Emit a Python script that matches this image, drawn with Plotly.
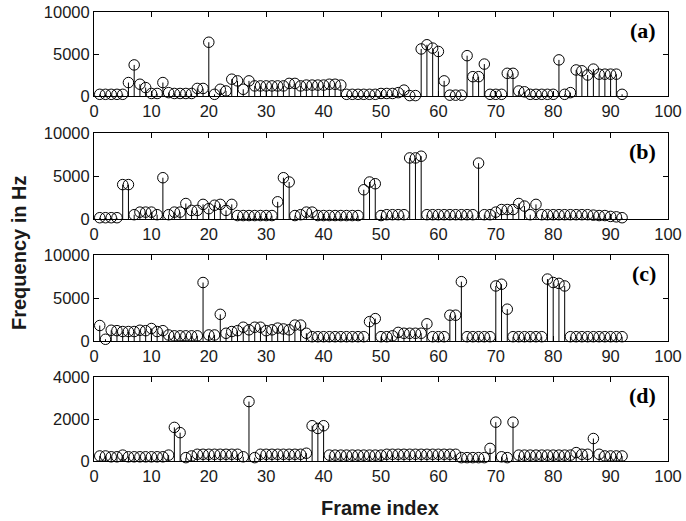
import plotly.graph_objects as go

frames = list(range(1, 93))

freq_a = [200, 200, 200, 200, 200, 1600, 3700, 1400, 1000, 300,
          300, 1600, 400, 300, 300, 300, 300, 900, 900, 6400,
          200, 800, 600, 2000, 1800, 800, 1800, 1200, 1200, 1200,
          1200, 1200, 1200, 1500, 1500, 1200, 1300, 1300, 1300, 1300,
          1400, 1400, 1300, 200, 200, 200, 200, 200, 200, 300,
          300, 300, 400, 700, 50, 50, 5600, 6100, 5700, 5300,
          1800, 100, 100, 100, 4800, 2300, 2300, 3800, 200, 200,
          200, 2700, 2700, 600, 500, 200, 200, 200, 200, 200,
          4300, 200, 400, 3100, 3000, 2500, 3200, 2600, 2600, 2600,
          2600, 200]

freq_b = [150, 150, 150, 150, 4000, 4000, 500, 800, 800, 800,
          500, 4800, 500, 800, 800, 1800, 1000, 1000, 1700, 1200,
          1600, 1700, 1000, 1700, 400, 400, 400, 400, 400, 400,
          400, 2000, 4800, 4300, 400, 500, 800, 800, 400, 400,
          400, 400, 400, 400, 400, 400, 3400, 4300, 4100, 400,
          500, 500, 500, 500, 7100, 7100, 7300, 500, 500, 500,
          500, 500, 500, 500, 500, 500, 6500, 500, 500, 800,
          1100, 1100, 1100, 1800, 1500, 500, 1700, 500, 500, 500,
          500, 500, 500, 500, 500, 500, 450, 400, 400, 300,
          250, 150]

freq_c = [1800, 200, 1250, 1200, 1100, 1100, 1100, 1250, 1200, 1450,
          1100, 1200, 700, 600, 600, 600, 600, 600, 6800, 700,
          700, 3100, 900, 1100, 1200, 1600, 1300, 1600, 1600, 1200,
          1300, 1500, 1400, 1300, 1850, 1850, 900, 500, 500, 500,
          500, 500, 500, 500, 500, 500, 500, 2250, 2600, 500,
          500, 600, 1000, 900, 900, 900, 900, 2000, 500, 500,
          500, 3000, 3000, 6900, 500, 500, 500, 500, 500, 6400,
          6600, 3700, 500, 500, 500, 500, 500, 500, 7200, 6800,
          6700, 6400, 500, 500, 500, 500, 500, 500, 500, 500,
          500, 500]

freq_d = [240, 240, 200, 200, 280, 200, 200, 200, 200, 200,
          200, 200, 280, 1600, 1350, 160, 240, 320, 320, 320,
          320, 320, 320, 320, 320, 200, 2830, 160, 320, 320,
          320, 320, 320, 320, 320, 320, 370, 1680, 1550, 1680,
          280, 280, 280, 280, 280, 280, 280, 280, 280, 280,
          320, 320, 320, 320, 320, 320, 320, 320, 320, 320,
          320, 320, 320, 160, 160, 160, 160, 160, 600, 1850,
          200, 160, 1850, 280, 280, 280, 280, 280, 280, 280,
          280, 280, 280, 400, 320, 320, 1070, 320, 240, 240,
          240, 240]

panel_labels = ["(a)", "(b)", "(c)", "(d)"]
series = [freq_a, freq_b, freq_c, freq_d]
y_max = [10000, 10000, 10000, 4000]
y_ticks = [[0, 5000, 10000], [0, 5000, 10000], [0, 5000, 10000], [0, 2000, 4000]]
x_ticks = list(range(0, 101, 10))

W, H = 686, 521
x_dom = [94 / W, 668 / W]
panel_px = [(12, 96), (133, 219), (255, 341), (377, 461)]

fig = go.Figure()
tick_font = dict(family="Liberation Sans, Arial, sans-serif", size=16.5, color="#1a1a1a")

for i, vals in enumerate(series):
    n = i + 1
    xa = "x" if n == 1 else f"x{n}"
    ya = "y" if n == 1 else f"y{n}"
    fig.add_trace(go.Scatter(
        x=frames, y=vals, xaxis=xa, yaxis=ya, mode="markers",
        marker=dict(symbol="circle-open", size=10.5, color="black",
                    line=dict(width=1, color="black")),
        error_y=dict(type="data", symmetric=False, array=[0] * len(vals),
                     arrayminus=vals, width=0, thickness=1, color="black"),
        cliponaxis=False, showlegend=False, hoverinfo="x+y",
    ))
    top, bot = panel_px[i]
    ydom = [1 - bot / H, 1 - top / H]
    axis_common = dict(showline=True, linecolor="black", linewidth=1,
                       mirror="allticks", ticks="inside", ticklen=5,
                       tickcolor="black", showgrid=False, zeroline=False,
                       tickfont=tick_font, automargin=False)
    fig.layout[("xaxis" if n == 1 else f"xaxis{n}")] = dict(
        domain=x_dom, anchor=ya, range=[0, 100], tickvals=x_ticks,
        ticktext=[str(t) for t in x_ticks], **axis_common)
    fig.layout[("yaxis" if n == 1 else f"yaxis{n}")] = dict(
        domain=ydom, anchor=xa, range=[0, y_max[i]], tickvals=y_ticks[i],
        ticktext=[str(t) for t in y_ticks[i]], **axis_common)
    fig.add_annotation(
        text="<b>" + panel_labels[i] + "</b>", xref="paper", yref="paper",
        x=658 / W, y=1 - (top + 18) / H, xanchor="right", yanchor="middle",
        showarrow=False,
        font=dict(family="Liberation Serif, Times New Roman, serif", size=22, color="black"))

fig.add_annotation(text="<b>Frequency in Hz</b>", xref="paper", yref="paper",
                   x=19 / W, y=1 - 253 / H, textangle=-90, showarrow=False,
                   xanchor="center", yanchor="middle",
                   font=dict(family="Liberation Sans, Arial, sans-serif", size=20, color="#1a1a1a"))
fig.add_annotation(text="<b>Frame index</b>", xref="paper", yref="paper",
                   x=380 / W, y=1 - 508 / H, showarrow=False,
                   xanchor="center", yanchor="middle",
                   font=dict(family="Liberation Sans, Arial, sans-serif", size=20, color="#1a1a1a"))

fig.update_layout(width=W, height=H, margin=dict(l=0, r=0, t=0, b=0, pad=0),
                  plot_bgcolor="white", paper_bgcolor="white")

fig.write_html("out.html", config={"displayModeBar": False},
               post_script="document.body.style.margin='0';document.body.style.overflow='hidden';")
